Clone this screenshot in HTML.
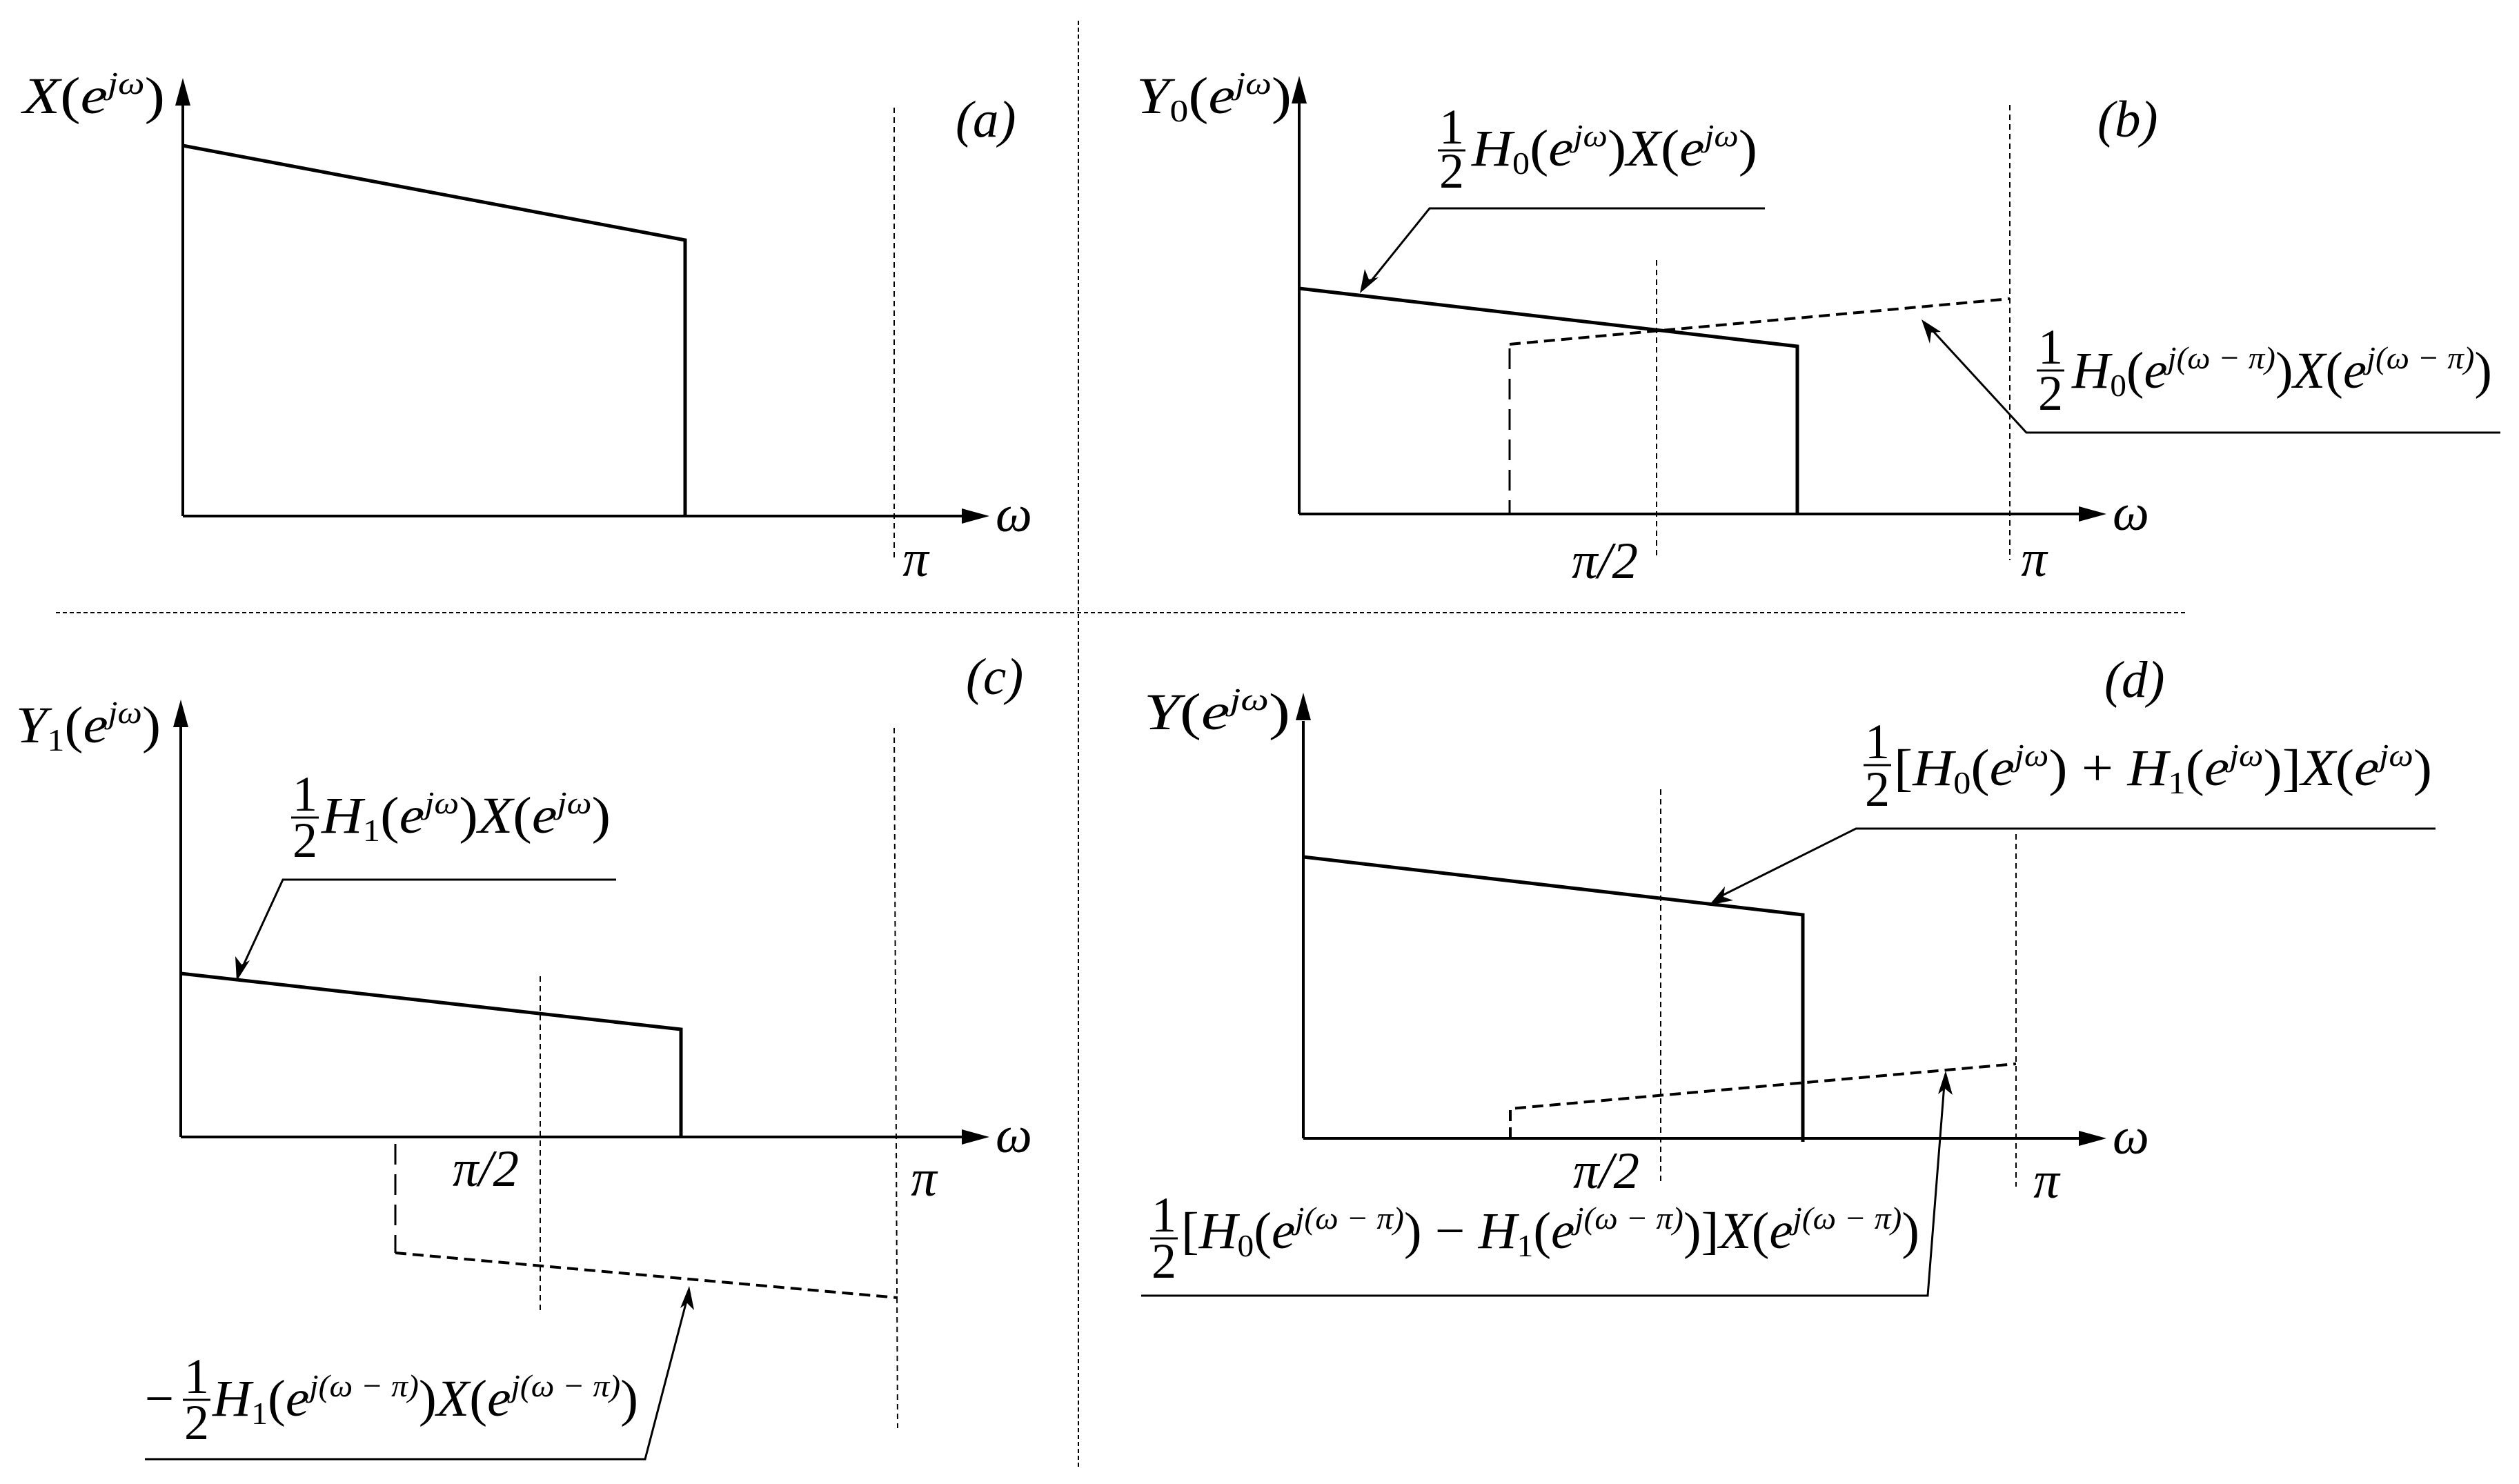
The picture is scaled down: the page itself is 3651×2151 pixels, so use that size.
<!DOCTYPE html>
<html><head><meta charset="utf-8"><style>
html,body{margin:0;padding:0;background:#fff;}
svg{display:block;}
text{font-family:"Liberation Serif",serif;fill:#000;}
.m{font-style:italic;font-size:75px;}
.f{font-size:72px;}
.s{font-size:46px;}
.n{font-style:normal;}
</style></head><body>
<svg width="3651" height="2151" viewBox="0 0 3651 2151" xmlns="http://www.w3.org/2000/svg">
<g fill="none" stroke="#000">
<line x1="81" y1="888" x2="3170" y2="888" stroke-width="2" stroke-dasharray="6,4"/>
<line x1="1563" y1="30" x2="1563" y2="2130" stroke-width="2" stroke-dasharray="6,4"/>

<line x1="265" y1="150" x2="265" y2="748" stroke-width="4"/>
<line x1="265" y1="748" x2="1400" y2="748" stroke-width="4"/>
<polyline points="265,211 993,348 993,748" stroke-width="5"/>
<line x1="1296" y1="156" x2="1296" y2="814" stroke-width="2" stroke-dasharray="8,6"/>

<line x1="1883" y1="150" x2="1883" y2="745" stroke-width="4"/>
<line x1="1883" y1="745" x2="3020" y2="745" stroke-width="4"/>
<polyline points="1883,418 2605,502 2605,745" stroke-width="5"/>
<line x1="2188" y1="499" x2="2913" y2="433" stroke-width="4" stroke-dasharray="16,9"/>
<line x1="2188" y1="505" x2="2188" y2="745" stroke-width="3" stroke-dasharray="30,14"/>
<line x1="2401" y1="377" x2="2401" y2="805" stroke-width="2" stroke-dasharray="8,6"/>
<line x1="2913" y1="152" x2="2913" y2="812" stroke-width="2" stroke-dasharray="8,6"/>
<polyline points="2558,302 2072,302 1985,410" stroke-width="3"/>
<polyline points="3624,627 2937,627 2800,478" stroke-width="3"/>

<line x1="262" y1="1050" x2="262" y2="1648" stroke-width="4"/>
<line x1="262" y1="1648" x2="1400" y2="1648" stroke-width="4"/>
<polyline points="262,1411 987,1492 987,1648" stroke-width="5"/>
<line x1="573" y1="1658" x2="573" y2="1816" stroke-width="3" stroke-dasharray="30,14"/>
<line x1="573" y1="1816" x2="1301" y2="1881" stroke-width="4" stroke-dasharray="16,9"/>
<line x1="783" y1="1415" x2="783" y2="1905" stroke-width="2" stroke-dasharray="8,6"/>
<line x1="1296" y1="1055" x2="1301" y2="2070" stroke-width="2" stroke-dasharray="8,6"/>
<polyline points="893,1275 410,1275 350,1405" stroke-width="3"/>
<polyline points="210,2115 935,2115 996,1882" stroke-width="3"/>

<line x1="1889" y1="1045" x2="1889" y2="1650" stroke-width="4"/>
<line x1="1889" y1="1650" x2="3020" y2="1650" stroke-width="4"/>
<polyline points="1889,1242 2613,1326 2613,1655" stroke-width="5"/>
<polyline points="2189,1650 2189,1607 2922,1542" stroke-width="4" stroke-dasharray="16,9"/>
<line x1="2407" y1="1144" x2="2407" y2="1713" stroke-width="2" stroke-dasharray="8,6"/>
<line x1="2922" y1="1209" x2="2922" y2="1720" stroke-width="2" stroke-dasharray="8,6"/>
<polyline points="3530,1201 2690,1201 2492,1300" stroke-width="3"/>
<polyline points="1654,1878 2794,1878 2818,1572" stroke-width="3"/>

<g stroke-width="3">
<line x1="2084" y1="218" x2="2124" y2="218"/>
<line x1="2952" y1="537" x2="2992" y2="537"/>
<line x1="422" y1="1185" x2="462" y2="1185"/>
<line x1="265" y1="2029" x2="305" y2="2029"/>
<line x1="2701" y1="1109" x2="2741" y2="1109"/>
<line x1="1667" y1="1795" x2="1707" y2="1795"/>
</g>
</g>

<g fill="#000">
<polygon points="265,113 254,153 276,153"/>
<polygon points="1434,748 1394,737 1394,759"/>
<polygon points="1883,110 1872,150 1894,150"/>
<polygon points="3053,745 3013,734 3013,756"/>
<polygon points="262,1014 251,1054 273,1054"/>
<polygon points="1434,1648 1394,1637 1394,1659"/>
<polygon points="1889,1004 1878,1044 1900,1044"/>
<polygon points="3053,1650 3013,1639 3013,1661"/>
<polygon points="1971,425 1978,390 1984,405 1998,402"/>
<polygon points="2785,463 2813,481 2799,482 2797,498"/>
<polygon points="343,1422 341,1386 350,1398 362,1392"/>
<polygon points="999,1864 1006,1899 996,1889 986,1896"/>
<polygon points="2477,1312 2500,1285 2498,1300 2512,1305"/>
<polygon points="2820,1552 2830,1587 2819,1578 2809,1586"/>
</g>

<text class="m" x="33" y="164" textLength="206" lengthAdjust="spacingAndGlyphs">X<tspan class="n">(</tspan>e<tspan class="s" baseline-shift="28">jω</tspan><tspan class="n">)</tspan></text>
<text class="m" x="1647" y="164" textLength="225" lengthAdjust="spacingAndGlyphs">Y<tspan class="s n" baseline-shift="-12">0</tspan><tspan class="n">(</tspan>e<tspan class="s" baseline-shift="28">jω</tspan><tspan class="n">)</tspan></text>
<text class="m" x="23" y="1076" textLength="210" lengthAdjust="spacingAndGlyphs">Y<tspan class="s n" baseline-shift="-12">1</tspan><tspan class="n">(</tspan>e<tspan class="s" baseline-shift="28">jω</tspan><tspan class="n">)</tspan></text>
<text class="m" x="1658" y="1057" textLength="212" lengthAdjust="spacingAndGlyphs">Y<tspan class="n">(</tspan>e<tspan class="s" baseline-shift="28">jω</tspan><tspan class="n">)</tspan></text>

<text class="m" x="1385" y="198">(a)</text>
<text class="m" x="3040" y="198">(b)</text>
<text class="m" x="1400" y="1006">(c)</text>
<text class="m" x="3050" y="1010">(d)</text>

<text class="m" x="1443" y="770">ω</text>
<text class="m" x="3062" y="768">ω</text>
<text class="m" x="1443" y="1670">ω</text>
<text class="m" x="3062" y="1672">ω</text>

<text class="m" x="1327" y="835" text-anchor="middle">π</text>
<text class="m" x="2948" y="835" text-anchor="middle">π</text>
<text class="m" x="1339" y="1733" text-anchor="middle">π</text>
<text class="m" x="2966" y="1736" text-anchor="middle">π</text>
<text class="m" x="2326" y="838" text-anchor="middle">π/2</text>
<text class="m" x="704" y="1719" text-anchor="middle">π/2</text>
<text class="m" x="2328" y="1722" text-anchor="middle">π/2</text>

<g class="f" text-anchor="middle">
<text x="2104" y="208">1</text><text x="2104" y="272">2</text>
<text x="2972" y="527">1</text><text x="2972" y="594">2</text>
<text x="442" y="1175">1</text><text x="442" y="1242">2</text>
<text x="285" y="2019">1</text><text x="285" y="2086">2</text>
<text x="2721" y="1099">1</text><text x="2721" y="1168">2</text>
<text x="1687" y="1785">1</text><text x="1687" y="1852">2</text>
</g>
<text class="m" x="205" y="2052">−</text>

<text class="m" x="2133" y="240" textLength="414" lengthAdjust="spacingAndGlyphs">H<tspan class="s n" baseline-shift="-12">0</tspan><tspan class="n">(</tspan>e<tspan class="s" baseline-shift="28">jω</tspan><tspan class="n">)</tspan>X<tspan class="n">(</tspan>e<tspan class="s" baseline-shift="28">jω</tspan><tspan class="n">)</tspan></text>
<text class="m" x="3003" y="562" textLength="609" lengthAdjust="spacingAndGlyphs">H<tspan class="s n" baseline-shift="-12">0</tspan><tspan class="n">(</tspan>e<tspan class="s" baseline-shift="28">j(ω − π)</tspan><tspan class="n">)</tspan>X<tspan class="n">(</tspan>e<tspan class="s" baseline-shift="28">j(ω − π)</tspan><tspan class="n">)</tspan></text>
<text class="m" x="466" y="1207" textLength="419" lengthAdjust="spacingAndGlyphs">H<tspan class="s n" baseline-shift="-12">1</tspan><tspan class="n">(</tspan>e<tspan class="s" baseline-shift="28">jω</tspan><tspan class="n">)</tspan>X<tspan class="n">(</tspan>e<tspan class="s" baseline-shift="28">jω</tspan><tspan class="n">)</tspan></text>
<text class="m" x="308" y="2052" textLength="617" lengthAdjust="spacingAndGlyphs">H<tspan class="s n" baseline-shift="-12">1</tspan><tspan class="n">(</tspan>e<tspan class="s" baseline-shift="28">j(ω − π)</tspan><tspan class="n">)</tspan>X<tspan class="n">(</tspan>e<tspan class="s" baseline-shift="28">j(ω − π)</tspan><tspan class="n">)</tspan></text>
<text class="m" x="2745" y="1138" textLength="780" lengthAdjust="spacingAndGlyphs"><tspan class="n">[</tspan>H<tspan class="s n" baseline-shift="-12">0</tspan><tspan class="n">(</tspan>e<tspan class="s" baseline-shift="28">jω</tspan><tspan class="n">) + </tspan>H<tspan class="s n" baseline-shift="-12">1</tspan><tspan class="n">(</tspan>e<tspan class="s" baseline-shift="28">jω</tspan><tspan class="n">)]</tspan>X<tspan class="n">(</tspan>e<tspan class="s" baseline-shift="28">jω</tspan><tspan class="n">)</tspan></text>
<text class="m" x="1712" y="1809" textLength="1070" lengthAdjust="spacingAndGlyphs"><tspan class="n">[</tspan>H<tspan class="s n" baseline-shift="-12">0</tspan><tspan class="n">(</tspan>e<tspan class="s" baseline-shift="28">j(ω − π)</tspan><tspan class="n">) − </tspan>H<tspan class="s n" baseline-shift="-12">1</tspan><tspan class="n">(</tspan>e<tspan class="s" baseline-shift="28">j(ω − π)</tspan><tspan class="n">)]</tspan>X<tspan class="n">(</tspan>e<tspan class="s" baseline-shift="28">j(ω − π)</tspan><tspan class="n">)</tspan></text>
</svg>
</body></html>
